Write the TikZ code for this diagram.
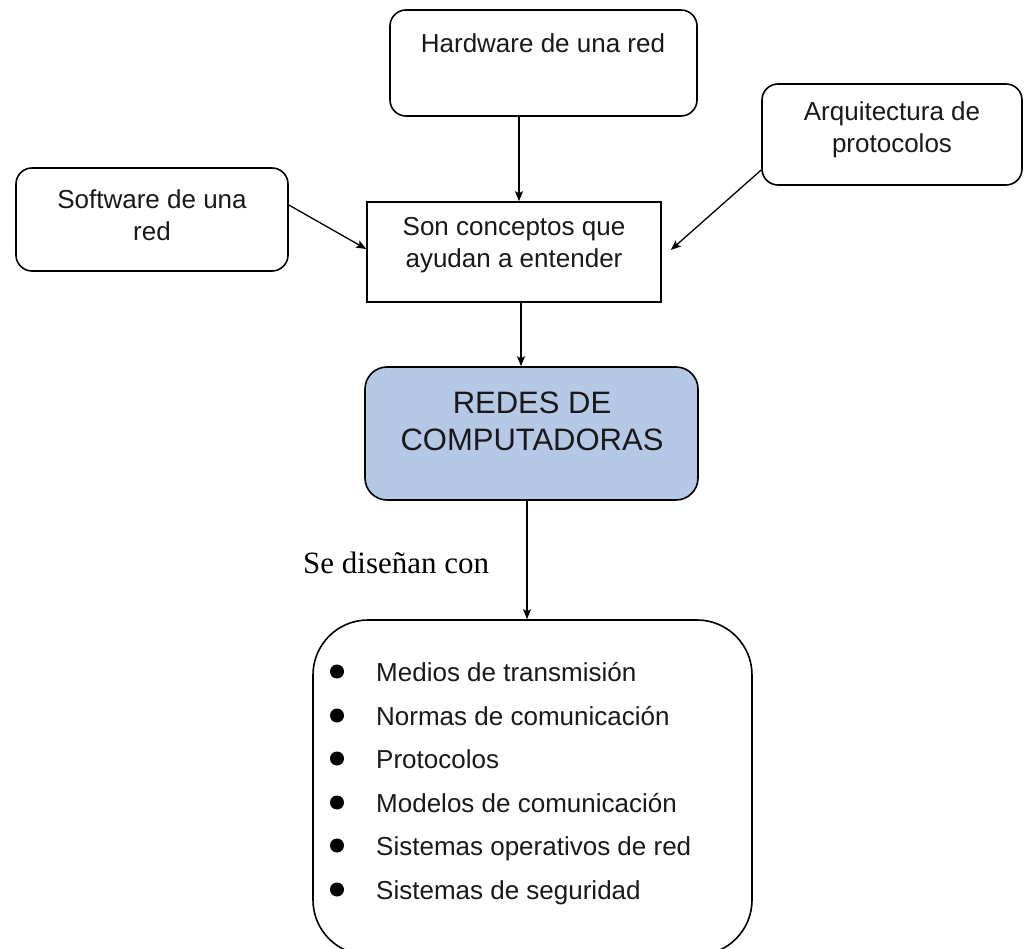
\documentclass[tikz,border=0pt]{standalone}
\usepackage{fontspec}
\setmainfont{Liberation Sans}
\newfontfamily\seriffont{Liberation Serif}
\usetikzlibrary{arrows.meta}
\definecolor{redesblue}{RGB}{181,200,229}
\tikzset{
  box/.style={draw=black, line width=1.6pt, rounded corners=16pt, fill=white, inner sep=0pt},
  sqbox/.style={draw=black, line width=1.6pt, fill=white, inner sep=0pt},
  txt/.style={font=\fontsize{26}{32}\selectfont, align=center, inner sep=0pt, text=black!90},
  arr/.style={line width=1.3pt, -{Stealth[length=10pt,width=8pt,inset=2pt]}},
  bullet/.style={circle, fill=black, inner sep=0pt, minimum size=14pt},
}
\begin{document}
\begin{tikzpicture}[x=1pt,y=-1pt]
\clip (0,0) rectangle (1026,949);
\fill[white] (0,0) rectangle (1026,949);
% boxes
\node[box, minimum width=307pt, minimum height=106pt] (hw) at (543.5,63) {};
\node[txt] (hwt) at (543,43) {Hardware de una red};
\node[box, minimum width=260pt, minimum height=101pt] (arq) at (892,134.5) {};
\node[txt] (arqt) at (892,130) {Arquitectura de\\protocolos};
\node[box, minimum width=272pt, minimum height=103pt] (sw) at (152,219.5) {};
\node[txt] (swt) at (152,215) {Software de una\\red};
\node[sqbox, minimum width=294pt, minimum height=100pt] (son) at (514,252) {};
\node[txt] (sont) at (514,245) {Son conceptos que\\ayudan a entender};
\node[box, fill=redesblue, rounded corners=22pt, minimum width=333pt, minimum height=133pt] (redes) at (531.5,433.5) {};
\node[txt, font=\fontsize{31}{37}\selectfont] (redest) at (532,421.5) {REDES DE\\COMPUTADORAS};
\node[box, rounded corners=55pt, minimum width=439pt, minimum height=335pt] (list) at (532.5,787.5) {};
% list items
\foreach \y/\t [count=\i] in {681/Medios de transmisión, 725/Normas de comunicación, 768/Protocolos, 812/Modelos de comunicación, 855/Sistemas operativos de red, 899/Sistemas de seguridad}{
  \node[bullet] (b\i) at (337,\y-9.5) {};
  \node[txt, anchor=base west] (it\i) at (376,\y) {\t};
}
% label
\node[font=\seriffont\fontsize{31}{37}\selectfont, anchor=base west, inner sep=0pt] (lbl) at (303,573) {Se diseñan con};
% connectors
\draw[arr] ([xshift=-24.5pt]hw.south) -- ([xshift=5pt]son.north);
\draw[arr] ([yshift=14.5pt]sw.east) -- ([yshift=3pt]son.west);
\draw[arr] ([yshift=-35.5pt]arq.west) -- ([xshift=9pt,yshift=2pt]son.east);
\draw[arr] ([xshift=7pt]son.south) -- ([xshift=-10.5pt]redes.north);
\draw[arr] ([xshift=-4.5pt]redes.south) -- ([xshift=-5.5pt]list.north);
\end{tikzpicture}
\end{document}
